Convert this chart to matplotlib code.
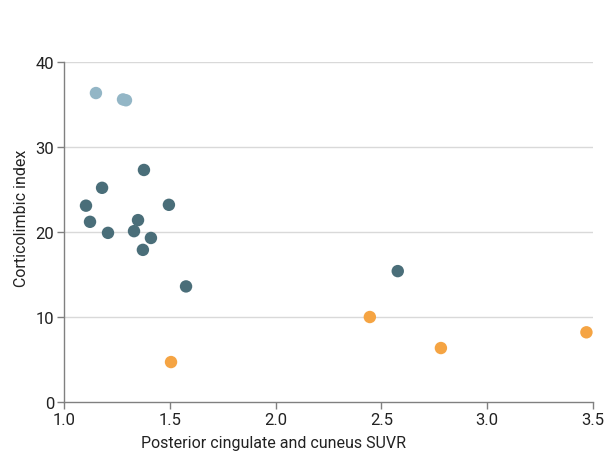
"""
Corticolimbic index vs posterior cingulate and cuneus SUVR scatter
"""
import matplotlib.pyplot as plt

plt.rcParams['font.family'] = ['Roboto', 'DejaVu Sans']

# light blue group
light_x = [1.151, 1.279, 1.293]
light_y = [36.35, 35.6, 35.5]

# dark teal group
dark_x = [1.104, 1.123, 1.180, 1.208, 1.331, 1.350, 1.378, 1.373, 1.411, 1.496, 1.577, 2.578]
dark_y = [23.1, 21.2, 25.2, 19.9, 20.1, 21.4, 27.3, 17.9, 19.3, 23.2, 13.6, 15.4]

# orange group
orange_x = [1.506, 2.446, 2.782, 3.470]
orange_y = [4.7, 10.0, 6.35, 8.2]

x_ticks = [1.0, 1.5, 2.0, 2.5, 3.0, 3.5]
y_ticks = [0, 10, 20, 30, 40]

fig = plt.figure(figsize=(6.13, 4.56), dpi=100)
ax = fig.add_axes([0.1044, 0.1162, 0.8626, 0.7456])

for y in y_ticks[1:]:
    ax.axhline(y, color='#d9d9d9', linewidth=1, zorder=0)

ax.scatter(light_x, light_y, s=80, color='#93b6c6', edgecolors='none', zorder=3)
ax.scatter(dark_x, dark_y, s=80, color='#4a6e79', edgecolors='none', zorder=3)
ax.scatter(orange_x, orange_y, s=80, color='#f5a443', edgecolors='none', zorder=3)

ax.set_xlim(1.0, 3.5)
ax.set_ylim(0, 40)
ax.set_xticks(x_ticks)
ax.set_xticklabels([f'{t:.1f}' for t in x_ticks])
ax.set_yticks(y_ticks)

for side in ['top', 'right']:
    ax.spines[side].set_visible(False)
for side in ['left', 'bottom']:
    ax.spines[side].set_color('#808080')
    ax.spines[side].set_linewidth(1)
ax.tick_params(colors='#808080', labelcolor='#222222', labelsize=12, length=5, width=1, pad=2)

ax.set_xlabel('Posterior cingulate and cuneus SUVR', fontsize=11.5, color='#222222', va='center')
ax.set_ylabel('Corticolimbic index', fontsize=11.5, color='#222222', va='center')
ax.xaxis.set_label_coords(0.397, -0.12)
ax.yaxis.set_label_coords(-0.081, 0.544)

plt.savefig('out.png', dpi=100, facecolor='white')
plt.close()
